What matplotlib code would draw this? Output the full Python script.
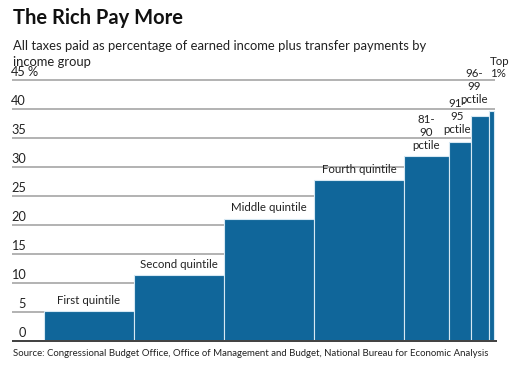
import numpy as np
import matplotlib.pyplot as plt

# income groups: share of population (percentile width) and tax rate
groups = ["First quintile", "Second quintile", "Middle quintile", "Fourth quintile",
          "81-\n90\npctile", "91-\n95\npctile", "96-\n99\npctile", "Top\n1%"]
widths = [20, 20, 20, 20, 10, 5, 4, 1]
rates = [5.2, 11.3, 21.1, 27.8, 31.9, 34.3, 38.8, 39.6]
yticks = [0, 5, 10, 15, 20, 25, 30, 35, 40, 45]

W, H = 511, 367
fig = plt.figure(figsize=(W / 100, H / 100), dpi=100)
plt.rcParams['font.family'] = ['Lato', 'DejaVu Sans']

# 29 px per 5 units so every gridline falls on a whole pixel boundary
ax = fig.add_axes([12 / W, 26 / H, (497 - 12) / W, 261 / H])
ax.set_xlim(-7.1, 100.7)
ax.set_ylim(0, 45)
ax.axis('off')

blue = '#10669a'
# gridlines, exactly 2 px thick
for t in yticks[1:]:
    ax.plot([-7.1, 100.2], [t, t], color='#b4b4b4', lw=1.44, zorder=1,
            clip_on=False, solid_capstyle='butt')
ax.plot([-7.1, 100.7], [0, 0], color='#444444', lw=1.44, zorder=3,
        clip_on=False, solid_capstyle='butt')

lefts = np.concatenate([[0], np.cumsum(widths)[:-1]])
ax.bar(lefts, rates, width=widths, align='edge', color=blue,
       edgecolor='#d6e8f3', linewidth=0.8, zorder=2)

# tick labels sit above the gridlines
for t in yticks:
    ax.text(-4.0, t + 0.3, str(t), ha='right', va='bottom', fontsize=9.2, color='#222222')
ax.text(-3.7, 45.3, "%", ha='left', va='bottom', fontsize=9.2, color='#222222')

# bar labels (hand-tuned nudges for the narrow bars)
dx = [0, 0, 0, 0, 0, -0.6, -1.3, 0.2]
dy = [0.9, 0.9, 0.9, 0.9, 0.9, 1.3, 1.9, 5.5]
for l, w, r, g, ox, oy in zip(lefts, widths, rates, groups, dx, dy):
    ha = 'left' if g.startswith("Top") else 'center'
    x = l + ox if ha == 'left' else l + w / 2 + ox
    ax.text(x, r + oy, g, ha=ha, va='bottom', fontsize=8.3, color='#222222',
            linespacing=1.2)

fig.text(13 / W, 1 - 18 / H, "The Rich Pay More", fontsize=14.5, fontweight='bold',
         ha='left', va='center', color='#111111')
fig.text(13 / W, 1 - 40 / H,
         "All taxes paid as percentage of earned income plus transfer payments by\nincome group",
         fontsize=9.4, ha='left', va='top', color='#222222', linespacing=1.35)
fig.text(13 / W, 1 - 354 / H,
         "Source: Congressional Budget Office, Office of Management and Budget, National Bureau for Economic Analysis",
         fontsize=6.9, ha='left', va='center', color='#222222')

fig.savefig("out.png", dpi=100)
